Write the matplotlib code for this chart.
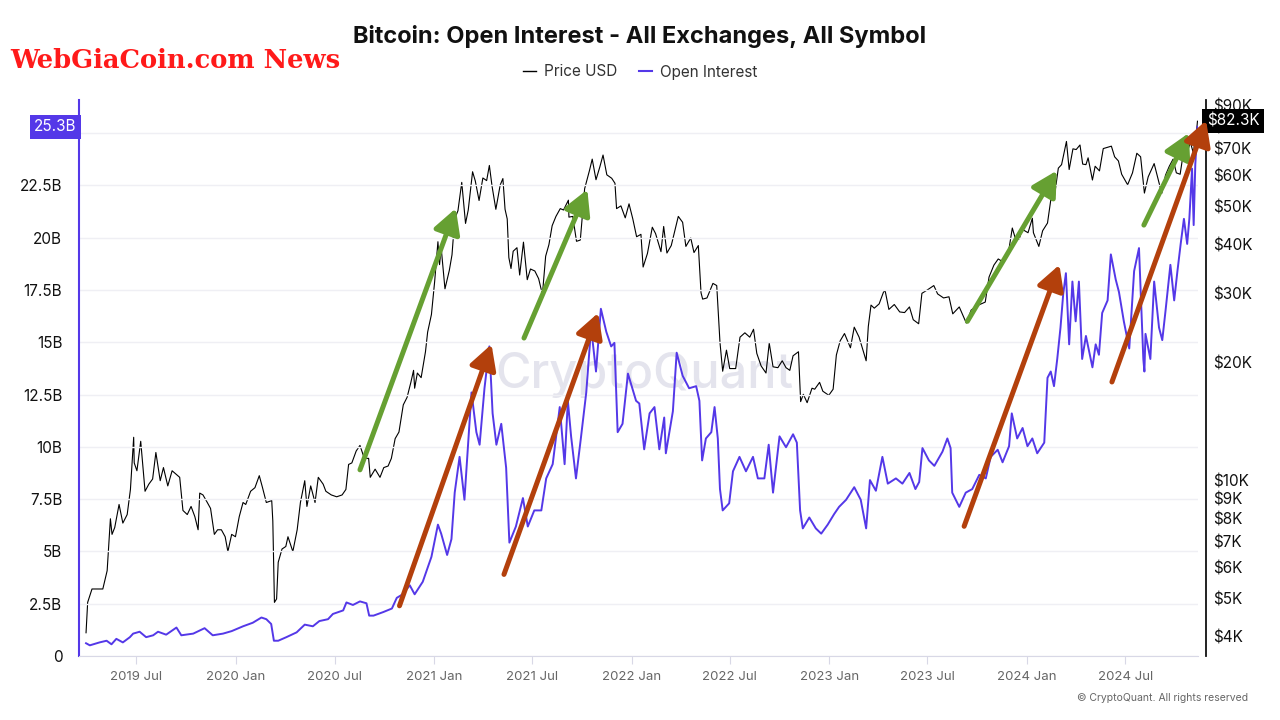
import matplotlib
matplotlib.use("Agg")
import matplotlib.pyplot as plt
import matplotlib.transforms as mtransforms
from matplotlib.lines import Line2D
from matplotlib.ticker import FixedLocator, FuncFormatter, NullLocator
import pandas as pd

plt.rcParams['font.family'] = ['Inter', 'DejaVu Sans']

# --- data ---
price_dates = [
    '2019-03-30', '2019-04-02', '2019-04-10', '2019-04-20', '2019-04-30', '2019-05-08', '2019-05-14',
    '2019-05-17', '2019-05-22', '2019-05-30', '2019-06-06', '2019-06-14', '2019-06-20', '2019-06-26',
    '2019-06-27', '2019-07-02', '2019-07-09', '2019-07-17', '2019-07-24', '2019-07-31', '2019-08-06',
    '2019-08-14', '2019-08-20', '2019-08-28', '2019-09-05', '2019-09-12', '2019-09-19', '2019-09-25',
    '2019-10-03', '2019-10-10', '2019-10-17', '2019-10-23', '2019-10-26', '2019-11-01', '2019-11-09',
    '2019-11-15', '2019-11-22', '2019-11-28', '2019-12-05', '2019-12-12', '2019-12-17', '2019-12-24',
    '2019-12-31', '2020-01-07', '2020-01-14', '2020-01-19', '2020-01-28', '2020-02-05', '2020-02-13',
    '2020-02-19', '2020-02-26', '2020-03-07', '2020-03-09', '2020-03-12', '2020-03-16', '2020-03-19',
    '2020-03-26', '2020-04-02', '2020-04-06', '2020-04-15', '2020-04-23', '2020-04-29', '2020-05-07',
    '2020-05-11', '2020-05-18', '2020-05-26', '2020-06-01', '2020-06-10', '2020-06-15', '2020-06-25',
    '2020-07-05', '2020-07-15', '2020-07-22', '2020-07-27', '2020-08-02', '2020-08-10', '2020-08-17',
    '2020-08-25', '2020-09-02', '2020-09-05', '2020-09-14', '2020-09-23', '2020-09-30', '2020-10-08',
    '2020-10-14', '2020-10-21', '2020-10-28', '2020-11-05', '2020-11-12', '2020-11-19', '2020-11-24',
    '2020-11-26', '2020-12-01', '2020-12-08', '2020-12-16', '2020-12-20', '2020-12-27', '2021-01-02',
    '2021-01-08', '2021-01-11', '2021-01-14', '2021-01-21', '2021-01-29', '2021-02-03', '2021-02-08',
    '2021-02-14', '2021-02-21', '2021-02-28', '2021-03-05', '2021-03-13', '2021-03-18', '2021-03-25',
    '2021-04-01', '2021-04-08', '2021-04-13', '2021-04-18', '2021-04-25', '2021-05-03', '2021-05-08',
    '2021-05-12', '2021-05-16', '2021-05-19', '2021-05-23', '2021-05-27', '2021-06-03', '2021-06-08',
    '2021-06-15', '2021-06-22', '2021-06-28', '2021-07-06', '2021-07-13', '2021-07-20', '2021-07-26',
    '2021-08-01', '2021-08-07', '2021-08-14', '2021-08-22', '2021-08-28', '2021-09-06', '2021-09-07',
    '2021-09-14', '2021-09-21', '2021-09-28', '2021-10-06', '2021-10-15', '2021-10-20', '2021-10-27',
    '2021-11-03', '2021-11-09', '2021-11-16', '2021-11-25', '2021-12-01', '2021-12-04', '2021-12-12',
    '2021-12-20', '2021-12-27', '2022-01-03', '2022-01-10', '2022-01-18', '2022-01-22', '2022-01-30',
    '2022-02-08', '2022-02-14', '2022-02-24', '2022-03-01', '2022-03-07', '2022-03-15', '2022-03-28',
    '2022-04-05', '2022-04-11', '2022-04-20', '2022-04-26', '2022-05-04', '2022-05-09', '2022-05-12',
    '2022-05-20', '2022-05-31', '2022-06-07', '2022-06-13', '2022-06-18', '2022-06-25', '2022-07-01',
    '2022-07-12', '2022-07-20', '2022-07-29', '2022-08-07', '2022-08-14', '2022-08-20', '2022-08-28',
    '2022-09-06', '2022-09-12', '2022-09-19', '2022-09-28', '2022-10-06', '2022-10-13', '2022-10-20',
    '2022-10-26', '2022-11-05', '2022-11-09', '2022-11-14', '2022-11-21', '2022-11-30', '2022-12-05',
    '2022-12-14', '2022-12-20', '2022-12-31', '2023-01-08', '2023-01-14', '2023-01-21', '2023-01-29',
    '2023-02-09', '2023-02-16', '2023-02-25', '2023-03-10', '2023-03-14', '2023-03-19', '2023-03-25',
    '2023-04-03', '2023-04-11', '2023-04-14', '2023-04-21', '2023-05-01', '2023-05-11', '2023-05-20',
    '2023-05-29', '2023-06-05', '2023-06-15', '2023-06-21', '2023-07-01', '2023-07-13', '2023-07-20',
    '2023-07-31', '2023-08-10', '2023-08-17', '2023-08-29', '2023-09-11', '2023-09-20', '2023-10-01',
    '2023-10-16', '2023-10-23', '2023-11-01', '2023-11-09', '2023-11-16', '2023-11-27', '2023-12-05',
    '2023-12-11', '2023-12-18', '2023-12-23', '2024-01-03', '2024-01-11', '2024-01-13', '2024-01-23',
    '2024-01-30', '2024-02-08', '2024-02-14', '2024-02-20', '2024-02-28', '2024-03-05', '2024-03-14',
    '2024-03-19', '2024-03-26', '2024-04-01', '2024-04-08', '2024-04-13', '2024-04-19', '2024-04-23',
    '2024-05-01', '2024-05-06', '2024-05-14', '2024-05-21', '2024-06-05', '2024-06-11', '2024-06-18',
    '2024-06-24', '2024-07-05', '2024-07-14', '2024-07-22', '2024-07-29', '2024-08-05', '2024-08-12',
    '2024-08-23', '2024-09-01', '2024-09-06', '2024-09-13', '2024-09-20', '2024-09-27', '2024-10-03',
    '2024-10-10', '2024-10-15', '2024-10-21', '2024-10-29', '2024-11-04', '2024-11-06', '2024-11-09',
    '2024-11-11',
]
price_k = [
    4.1, 4.9, 5.3, 5.3, 5.3, 5.9, 8.0,
    7.3, 7.6, 8.7, 7.8, 8.2, 9.5, 12.9,
    11.1, 10.6, 12.6, 9.4, 9.8, 10.1, 11.8,
    10.0, 10.8, 9.7, 10.6, 10.4, 10.2, 8.4,
    8.2, 8.6, 8.1, 7.5, 9.3, 9.2, 8.8,
    8.5, 7.3, 7.5, 7.5, 7.2, 6.6, 7.3,
    7.2, 8.1, 8.8, 8.7, 9.4, 9.6, 10.3,
    9.6, 8.8, 8.9, 7.9, 4.9, 5.0, 6.2,
    6.7, 6.8, 7.2, 6.6, 7.5, 8.8, 10.0,
    8.6, 9.7, 8.8, 10.2, 9.8, 9.4, 9.2,
    9.1, 9.2, 9.5, 11.0, 11.1, 11.9, 12.3,
    11.4, 11.4, 10.2, 10.7, 10.2, 10.8, 10.9,
    11.4, 12.8, 13.3, 15.6, 16.3, 17.8, 19.1,
    17.2, 18.8, 18.3, 21.3, 23.9, 26.5, 32.2,
    40.6, 35.5, 39.2, 30.8, 34.3, 37.6, 46.4,
    48.7, 57.5, 45.2, 48.9, 61.2, 58.0, 51.7,
    59.0, 58.1, 63.5, 56.2, 49.1, 56.6, 58.8,
    49.1, 46.4, 37.0, 34.7, 38.4, 39.2, 33.4,
    40.5, 32.5, 34.6, 34.2, 32.7, 29.8, 37.3,
    39.9, 44.6, 47.1, 49.3, 48.9, 51.8, 46.9,
    47.1, 40.7, 41.0, 55.4, 61.7, 65.9, 58.4,
    62.9, 67.5, 60.1, 58.9, 57.2, 49.3, 50.1,
    46.7, 50.7, 46.4, 41.8, 42.4, 35.0, 37.9,
    44.2, 42.6, 38.3, 44.4, 38.0, 39.7, 47.1,
    45.5, 39.5, 41.5, 38.1, 39.7, 30.1, 29.0,
    29.2, 31.8, 31.4, 22.5, 19.0, 21.5, 19.3,
    19.3, 23.2, 23.8, 23.2, 24.3, 21.1, 19.6,
    18.8, 22.4, 19.5, 19.4, 20.2, 19.4, 19.1,
    20.8, 21.3, 15.9, 16.6, 15.8, 17.2, 17.1,
    17.8, 16.9, 16.5, 17.1, 20.9, 22.7, 23.7,
    21.8, 24.6, 23.2, 20.2, 24.7, 28.0, 27.5,
    28.2, 30.2, 30.5, 27.3, 28.1, 26.9, 26.8,
    27.7, 25.7, 25.1, 30.0, 30.6, 31.4, 29.9,
    29.2, 29.4, 26.6, 27.7, 25.2, 27.2, 27.9,
    28.5, 33.0, 35.4, 36.7, 36.2, 37.5, 44.0,
    41.2, 41.3, 43.7, 42.8, 46.6, 42.8, 39.5,
    43.3, 45.3, 51.8, 52.0, 62.5, 63.8, 73.1,
    62.0, 70.0, 69.7, 71.6, 64.0, 63.8, 66.4,
    58.3, 63.2, 61.5, 70.1, 71.1, 66.8, 65.2,
    60.3, 56.7, 60.8, 68.2, 66.8, 54.0, 59.4,
    64.2, 57.3, 53.9, 60.0, 63.2, 65.9, 60.8,
    60.3, 67.0, 67.4, 72.7, 67.8, 75.9, 76.7,
    82.3,
]

oi_dates = [
    '2019-03-30', '2019-04-06', '2019-04-24', '2019-05-07', '2019-05-16', '2019-05-25', '2019-06-06',
    '2019-06-19', '2019-06-25', '2019-07-07', '2019-07-19', '2019-08-01', '2019-08-10', '2019-08-25',
    '2019-09-13', '2019-09-22', '2019-10-14', '2019-11-04', '2019-11-19', '2019-12-08', '2019-12-24',
    '2020-01-14', '2020-02-01', '2020-02-17', '2020-02-26', '2020-03-06', '2020-03-11', '2020-03-19',
    '2020-04-03', '2020-04-22', '2020-05-07', '2020-05-22', '2020-06-03', '2020-06-19', '2020-06-28',
    '2020-07-17', '2020-07-23', '2020-08-04', '2020-08-17', '2020-08-29', '2020-09-03', '2020-09-11',
    '2020-09-29', '2020-10-15', '2020-10-24', '2020-11-04', '2020-11-17', '2020-11-26', '2020-12-11',
    '2020-12-27', '2021-01-08', '2021-01-14', '2021-01-25', '2021-02-02', '2021-02-08', '2021-02-17',
    '2021-02-26', '2021-03-11', '2021-03-20', '2021-03-26', '2021-04-04', '2021-04-13', '2021-04-19',
    '2021-04-26', '2021-05-05', '2021-05-14', '2021-05-20', '2021-06-01', '2021-06-14', '2021-06-23',
    '2021-07-05', '2021-07-18', '2021-07-27', '2021-08-08', '2021-08-21', '2021-08-30', '2021-09-05',
    '2021-09-11', '2021-09-20', '2021-09-29', '2021-10-09', '2021-10-18', '2021-10-27', '2021-11-05',
    '2021-11-15', '2021-11-24', '2021-11-30', '2021-12-06', '2021-12-15', '2021-12-25', '2022-01-09',
    '2022-01-15', '2022-01-24', '2022-02-03', '2022-02-12', '2022-02-21', '2022-03-02', '2022-03-05',
    '2022-03-18', '2022-03-25', '2022-04-05', '2022-04-17', '2022-04-30', '2022-05-06', '2022-05-11',
    '2022-05-18', '2022-05-28', '2022-06-03', '2022-06-09', '2022-06-13', '2022-06-18', '2022-06-30',
    '2022-07-07', '2022-07-19', '2022-07-31', '2022-08-13', '2022-08-22', '2022-09-03', '2022-09-11',
    '2022-09-19', '2022-10-01', '2022-10-13', '2022-10-26', '2022-11-02', '2022-11-08', '2022-11-13',
    '2022-11-25', '2022-12-07', '2022-12-17', '2022-12-29', '2023-01-10', '2023-01-19', '2023-02-01',
    '2023-02-16', '2023-02-28', '2023-03-10', '2023-03-17', '2023-03-28', '2023-04-09', '2023-04-19',
    '2023-05-04', '2023-05-16', '2023-05-29', '2023-06-09', '2023-06-16', '2023-06-22', '2023-07-04',
    '2023-07-14', '2023-07-29', '2023-08-07', '2023-08-13', '2023-08-16', '2023-08-29', '2023-09-10',
    '2023-09-22', '2023-10-05', '2023-10-17', '2023-10-26', '2023-11-08', '2023-11-17', '2023-11-29',
    '2023-12-04', '2023-12-14', '2023-12-24', '2024-01-02', '2024-01-11', '2024-01-20', '2024-02-02',
    '2024-02-08', '2024-02-14', '2024-02-20', '2024-02-26', '2024-03-03', '2024-03-08', '2024-03-13',
    '2024-03-19', '2024-03-25', '2024-03-31', '2024-04-06', '2024-04-12', '2024-04-19', '2024-05-01',
    '2024-05-07', '2024-05-13', '2024-05-19', '2024-05-29', '2024-06-04', '2024-06-13', '2024-06-19',
    '2024-06-28', '2024-07-08', '2024-07-17', '2024-07-26', '2024-08-03', '2024-08-05', '2024-08-07',
    '2024-08-16', '2024-08-23', '2024-09-01', '2024-09-07', '2024-09-13', '2024-09-22', '2024-09-29',
    '2024-10-05', '2024-10-11', '2024-10-17', '2024-10-23', '2024-10-27', '2024-11-01', '2024-11-04',
    '2024-11-07', '2024-11-11',
]
oi_b = [
    0.61, 0.51, 0.65, 0.73, 0.56, 0.82, 0.65,
    0.90, 1.07, 1.16, 0.90, 0.99, 1.16, 1.02,
    1.36, 0.99, 1.07, 1.33, 0.99, 1.07, 1.19,
    1.42, 1.59, 1.84, 1.76, 1.53, 0.73, 0.73,
    0.90, 1.13, 1.50, 1.42, 1.67, 1.76, 2.01,
    2.18, 2.56, 2.44, 2.61, 2.52, 1.93, 1.93,
    2.10, 2.27, 2.78, 2.95, 3.38, 2.95, 3.55,
    4.74, 6.28, 5.85, 4.83, 5.59, 7.81, 9.52,
    7.47, 12.6, 10.7, 10.1, 12.8, 14.8, 11.6,
    10.1, 11.1, 9.0, 5.42, 6.19, 7.55, 6.19,
    6.96, 6.96, 8.49, 9.17, 11.9, 9.17, 12.2,
    10.5, 8.49, 10.4, 12.6, 15.7, 13.6, 16.6,
    15.5, 14.8, 14.97, 10.7, 11.1, 13.5, 12.2,
    12.07, 9.88, 11.6, 11.9, 9.88, 11.4, 9.69,
    11.7, 14.5, 13.4, 12.8, 12.9, 12.2, 9.35,
    10.4, 10.7, 11.9, 10.4, 7.98, 6.96, 7.30,
    8.83, 9.52, 8.83, 9.52, 8.49, 8.49, 10.1,
    7.81, 10.5, 9.98, 10.6, 10.2, 6.96, 6.10,
    6.62, 6.10, 5.85, 6.28, 6.79, 7.13, 7.47,
    8.07, 7.47, 6.10, 8.41, 7.90, 9.52, 8.24,
    8.49, 8.24, 8.75, 7.98, 8.32, 9.94, 9.35,
    9.09, 9.77, 10.4, 9.94, 7.81, 7.13, 7.81,
    7.98, 8.66, 8.49, 9.52, 9.86, 9.26, 10.03,
    11.6, 10.4, 10.9, 10.03, 10.4, 9.69, 10.2,
    13.3, 13.6, 12.9, 14.2, 15.7, 17.3, 18.3,
    14.9, 17.9, 16.0, 17.9, 14.2, 15.3, 13.8,
    14.9, 14.4, 16.4, 17.0, 19.2, 18.0, 17.4,
    16.0, 14.7, 18.4, 19.5, 14.2, 13.6, 15.4,
    14.2, 17.9, 15.7, 15.1, 16.5, 18.7, 17.0,
    18.4, 19.7, 20.9, 19.7, 20.9, 23.3, 20.6,
    23.5, 25.3,
]

xtick_dates = ['2019-07-01', '2020-01-01', '2020-07-01', '2021-01-01', '2021-07-01', '2022-01-01',
               '2022-07-01', '2023-01-01', '2023-07-01', '2024-01-01', '2024-07-01']
oi_ticks = [0, 2.5, 5, 7.5, 10, 12.5, 15, 17.5, 20, 22.5, 25]
price_ticks = [4000, 5000, 6000, 7000, 8000, 9000, 10000, 20000, 30000, 40000,
               50000, 60000, 70000, 80000, 90000]

# annotation arrows (tail, head) as (date, OI in B)
green_arrows = [
    (('2020-08-17', 8.9), ('2021-02-10', 21.4)),
    (('2021-06-16', 15.2), ('2021-10-11', 22.3)),
    (('2023-09-13', 16.0), ('2024-02-25', 23.2)),
    (('2024-08-04', 20.6), ('2024-10-26', 25.0)),
]
brown_arrows = [
    (('2020-10-29', 2.4), ('2021-04-17', 14.9)),
    (('2021-05-10', 3.9), ('2021-10-31', 16.4)),
    (('2023-09-07', 6.2), ('2024-03-01', 18.7)),
    (('2024-06-06', 13.1), ('2024-11-27', 25.6)),
]

PURPLE = '#5438e8'
GREEN = '#66a032'
BROWN = '#b3400c'

p_dates = pd.to_datetime(price_dates)
o_dates = pd.to_datetime(oi_dates)
prices = [p * 1000 for p in price_k]

fig = plt.figure(figsize=(12.8, 7.2), dpi=100)
ax = fig.add_axes([79 / 1280, 1 - 656 / 720, 1119 / 1280, 556 / 720])
ax2 = ax.twinx()
ax.set_zorder(ax2.get_zorder() + 1)
ax.patch.set_visible(False)

# price on right (log)
ax2.plot(p_dates, prices, color='black', lw=0.8)
ax2.set_yscale('log')
ax2.set_ylim(3578, 93200)
ax2.yaxis.set_major_locator(FixedLocator(price_ticks))
ax2.yaxis.set_minor_locator(NullLocator())
ax2.yaxis.set_major_formatter(FuncFormatter(lambda v, p: f"${v / 1000:g}K"))
ax2.tick_params(axis='y', length=0, pad=5, labelsize=11, labelcolor='#111')
for s in ['top', 'left', 'bottom']:
    ax2.spines[s].set_visible(False)
ax2.spines['right'].set_position(('outward', 6))
ax2.spines['right'].set_color('#111')
ax2.spines['right'].set_linewidth(1.3)

ax2.text(0.505, 0.505, 'CryptoQuant', transform=ax2.transAxes, fontsize=35, fontweight='medium',
         color='#e4e4ed', ha='center', va='center', zorder=0)

# open interest on left
ax.plot(o_dates, oi_b, color=PURPLE, lw=1.4)
ax.set_ylim(0, 26.58)
ax.yaxis.set_major_locator(FixedLocator(oi_ticks))
ax.yaxis.set_major_formatter(FuncFormatter(lambda v, p: '0' if v == 0 else f"{v:g}B"))
ax.tick_params(axis='y', length=0, pad=12, labelsize=11, labelcolor='#111')
ax.yaxis.grid(True, color='#efeff4', lw=1)
ax.set_axisbelow(True)
ax.set_xlim(pd.Timestamp('2019-03-17'), pd.Timestamp('2024-11-12'))
ax.set_xticks(pd.to_datetime(xtick_dates))
ax.set_xticklabels([pd.Timestamp(d).strftime('%Y %b') for d in xtick_dates])
ax.tick_params(axis='x', length=6, color='#d8d8e6', pad=5, labelsize=9.5, labelcolor='#666')
ax.spines['top'].set_visible(False)
ax.spines['right'].set_visible(False)
ax.spines['left'].set_color(PURPLE)
ax.spines['left'].set_linewidth(1.5)
ax.spines['bottom'].set_color('#d8d8e6')

for arrows, col in [(green_arrows, GREEN), (brown_arrows, BROWN)]:
    for (t_d, t_v), (h_d, h_v) in arrows:
        ax.annotate('', xy=(pd.Timestamp(h_d), h_v), xytext=(pd.Timestamp(t_d), t_v),
                    arrowprops=dict(arrowstyle='-|>,head_length=1.0,head_width=0.55', color=col,
                                    lw=3.6, shrinkA=0, shrinkB=0, mutation_scale=15),
                    annotation_clip=False, zorder=5)

# last value boxes
tl = mtransforms.blended_transform_factory(ax.transAxes, ax.transData)
ax.text(-0.002, oi_b[-1], f"{oi_b[-1]}B", transform=tl, ha='right', va='center', color='white',
        fontsize=11, bbox=dict(boxstyle='square,pad=0.3', fc=PURPLE, ec='none'), zorder=10)
tr = mtransforms.blended_transform_factory(ax2.transAxes, ax2.transData)
ax2.text(1.008, prices[-1], f"${price_k[-1]}K", transform=tr, ha='left', va='center', color='white',
         fontsize=11, bbox=dict(boxstyle='square,pad=0.3', fc='black', ec='none'), zorder=10)

fig.text(0.5, 1 - 37 / 720, 'Bitcoin: Open Interest - All Exchanges, All Symbol',
         ha='center', va='center', fontsize=17, fontweight='bold', color='#111')
handles = [Line2D([], [], color='black', lw=1), Line2D([], [], color=PURPLE, lw=1.5)]
fig.legend(handles, ['Price USD', 'Open Interest'], loc='center', bbox_to_anchor=(0.5, 1 - 72 / 720),
           ncol=2, frameon=False, fontsize=11, handlelength=0.9, handletextpad=0.5,
           columnspacing=1.4, labelcolor='#333')

fig.text(10 / 1280, 1 - 60 / 720, 'WebGiaCoin.com News', color='#ff1a1a', fontsize=18.5,
         fontweight='bold', family='DejaVu Serif', va='center', ha='left')
fig.text(1248 / 1280, 1 - 698 / 720, '\u00a9 CryptoQuant. All rights reserved', ha='right',
         va='center', fontsize=7.5, color='#666')

fig.savefig('out.png', dpi=100, facecolor='white')
